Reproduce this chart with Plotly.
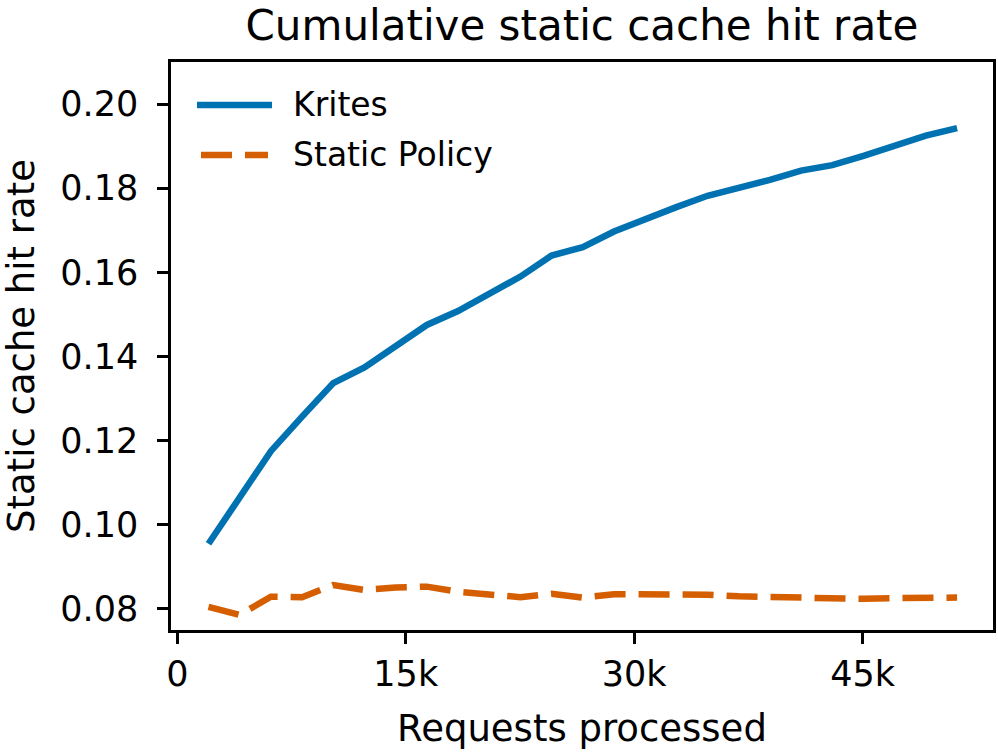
import plotly.graph_objects as go

requests_processed = [2048, 4096, 6144, 8192, 10240, 12288, 14336, 16384, 18432, 20480,
                      22528, 24576, 26624, 28672, 30720, 32768, 34816, 36864, 38912, 40960,
                      43008, 45056, 47104, 49152, 51200]
krites = [0.0955, 0.1066, 0.1175, 0.1257, 0.1337, 0.1374, 0.1425, 0.1475, 0.1508, 0.1550,
          0.1590, 0.1640, 0.1660, 0.1697, 0.1727, 0.1755, 0.1782, 0.1800, 0.1820, 0.1842,
          0.1855, 0.1877, 0.1900, 0.1925, 0.1943]
static_policy = [0.0805, 0.0786, 0.0829, 0.0828, 0.0857, 0.0845, 0.0851, 0.0853, 0.0841, 0.0833,
                 0.0828, 0.0836, 0.0827, 0.0835, 0.0835, 0.0835, 0.0834, 0.0830, 0.0829, 0.0826,
                 0.0824, 0.0824, 0.0826, 0.0828, 0.0827]
series_names = ["Krites", "Static Policy"]
x_tickvals = [0, 15000, 30000, 45000]
x_ticktext = ["0", "15k", "30k", "45k"]
y_tickvals = [0.08, 0.10, 0.12, 0.14, 0.16, 0.18, 0.20]

BLUE = "#0072B2"
ORANGE = "#D55E00"
FONT = "DejaVu Sans"
DASH = "31px,13px"
LW = 6.5

fig = go.Figure()
fig.add_trace(go.Scatter(x=requests_processed, y=krites, mode="lines", name=series_names[0],
                         line=dict(color=BLUE, width=LW), showlegend=False))
fig.add_trace(go.Scatter(x=requests_processed, y=static_policy, mode="lines", name=series_names[1],
                         line=dict(color=ORANGE, width=LW, dash=DASH), showlegend=False))

# manual legend (matplotlib-style, no frame)
PW, PH, L, B = 822, 568, 171, 123
def px(xp):
    return (xp - L) / PW
def py(yp):
    return (753 - B - yp) / PH

fig.add_shape(type="line", xref="paper", yref="paper", x0=px(197), x1=px(272), y0=py(105), y1=py(105),
              line=dict(color=BLUE, width=LW))
fig.add_shape(type="line", xref="paper", yref="paper", x0=px(201), x1=px(268), y0=py(155), y1=py(155),
              line=dict(color=ORANGE, width=LW, dash=DASH))
fig.add_annotation(xref="paper", yref="paper", x=px(291), y=py(104), xanchor="left", yanchor="middle",
                   text=series_names[0], showarrow=False, font=dict(family=FONT, size=33, color="black"))
fig.add_annotation(xref="paper", yref="paper", x=px(291), y=py(155), xanchor="left", yanchor="middle",
                   text=series_names[1], showarrow=False, font=dict(family=FONT, size=33, color="black"))

fig.update_layout(
    width=998, height=753,
    margin=dict(l=L, r=5, t=62, b=B, autoexpand=False),
    paper_bgcolor="white", plot_bgcolor="white",
    font=dict(family=FONT, size=33, color="black"),
    title=dict(text="Cumulative static cache hit rate", x=(L + PW / 2) / 998, xanchor="center",
               y=1 - 25 / 753, yanchor="middle", yref="container",
               font=dict(family=FONT, size=42, color="black")),
    showlegend=False,
)
fig.update_xaxes(range=[-414, 53560], tickvals=x_tickvals, ticktext=x_ticktext,
                 showline=True, linecolor="black", linewidth=2.5, mirror=True,
                 ticks="outside", ticklen=11, tickwidth=2.5, tickcolor="black",
                 showgrid=False, zeroline=False, automargin=False,
                 tickfont=dict(family=FONT, size=35),
                 title=dict(text="Requests processed", font=dict(family=FONT, size=37), standoff=23))
fig.update_yaxes(range=[0.075, 0.21], tickvals=y_tickvals, tickformat=".2f",
                 showline=True, linecolor="black", linewidth=2.5, mirror=True,
                 ticks="outside", ticklen=11, tickwidth=2.5, tickcolor="black",
                 showgrid=False, zeroline=False, automargin=False, ticklabelstandoff=12,
                 tickfont=dict(family=FONT, size=35),
                 title=dict(text="Static cache hit rate", font=dict(family=FONT, size=37), standoff=18))

fig.write_html("out.html", config={"displayModeBar": False},
               post_script="document.body.style.margin='0';")
